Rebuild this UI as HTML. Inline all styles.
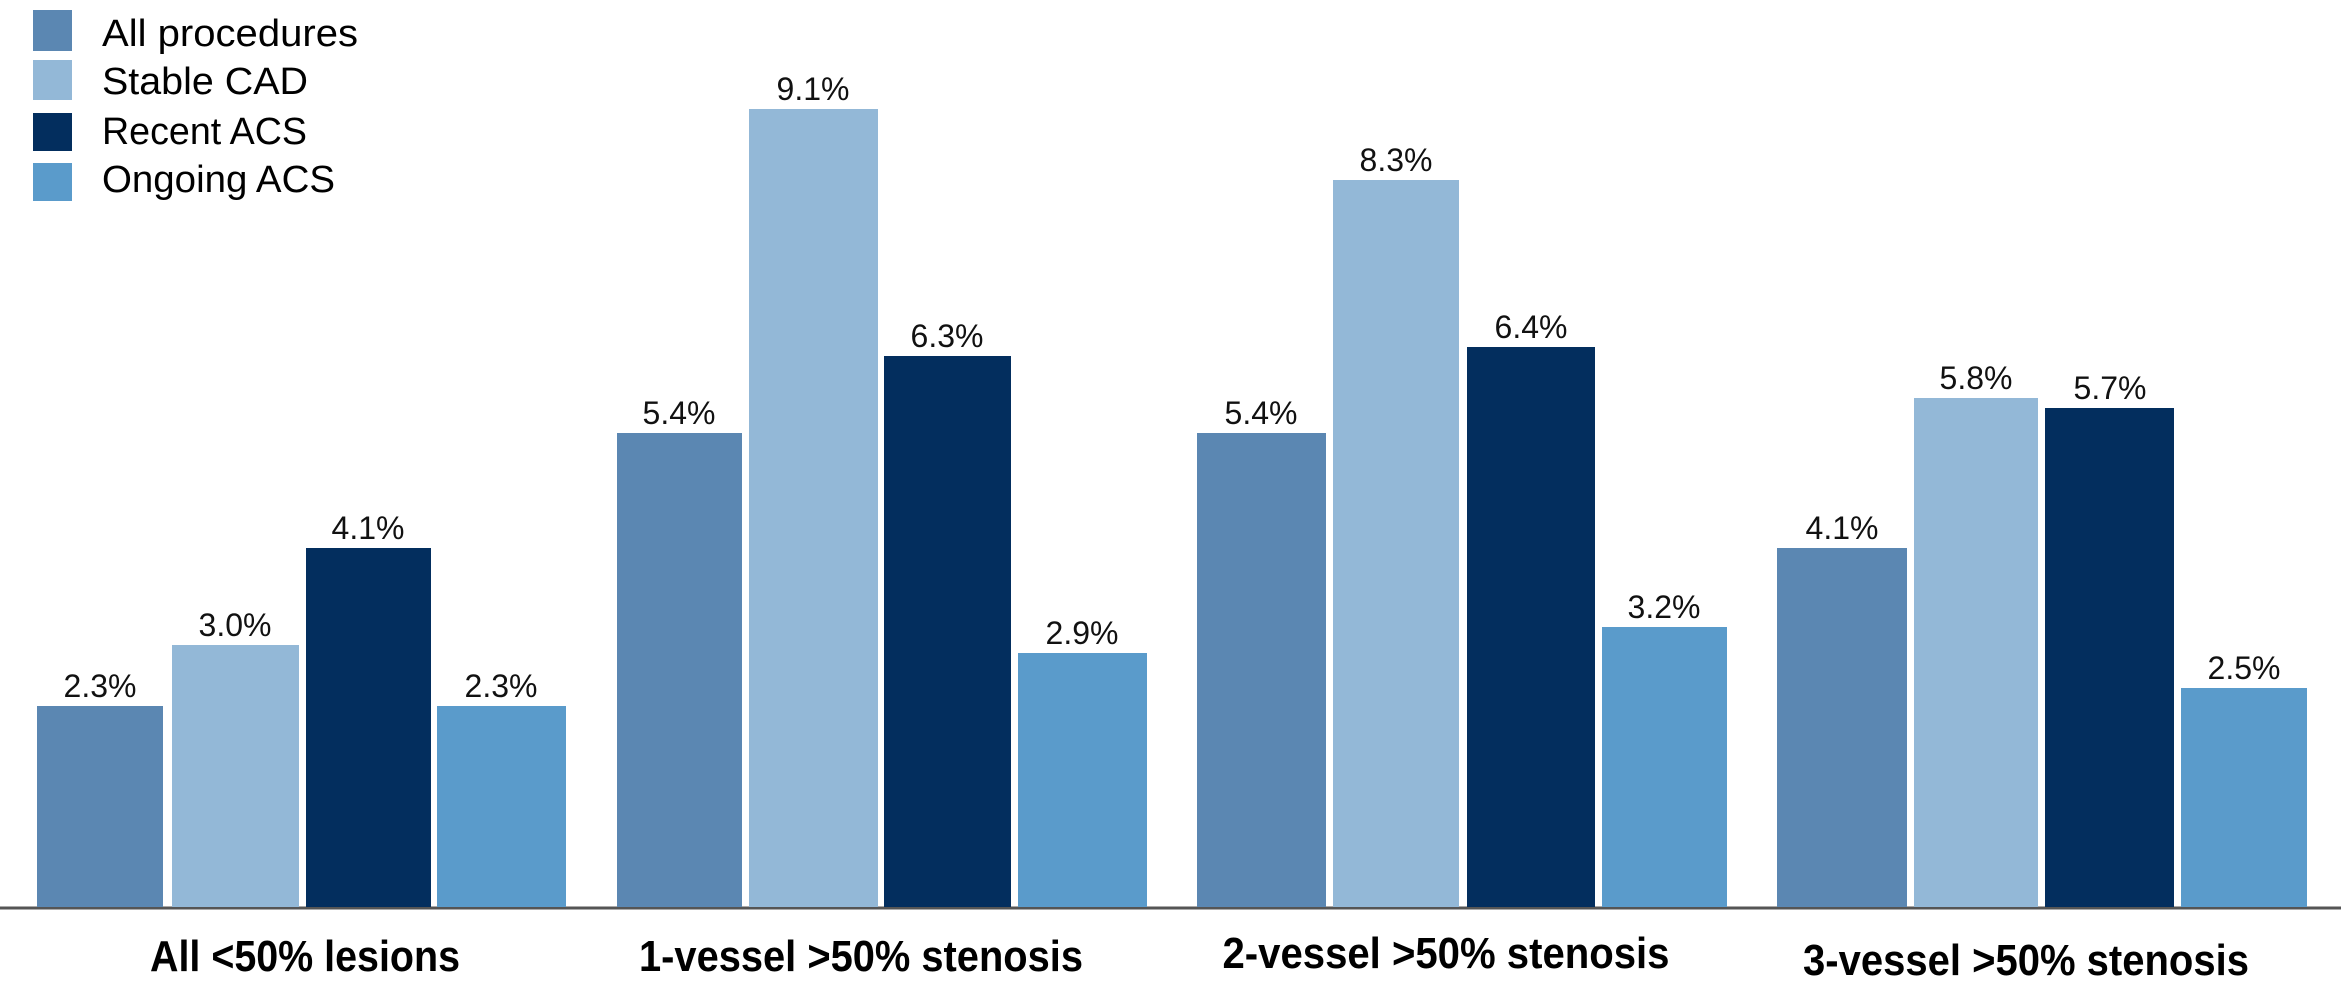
<!DOCTYPE html>
<html><head><meta charset="utf-8"><style>
html,body{margin:0;padding:0;background:#fff;}
svg{display:block;}
</style></head><body>
<svg width="2341" height="985" viewBox="0 0 2341 985" xmlns="http://www.w3.org/2000/svg">
<rect width="2341" height="985" fill="#fff"/>
<g font-family="Liberation Sans, sans-serif" font-size="38" fill="#000">
<rect x="33" y="10" width="39" height="41" fill="#5b87b2"/>
<rect x="33" y="60" width="39" height="40" fill="#93b8d7"/>
<rect x="33" y="113" width="39" height="38" fill="#032e5e"/>
<rect x="33" y="163" width="39" height="38" fill="#5a9bcb"/>
<text x="102" y="46" textLength="256" lengthAdjust="spacingAndGlyphs">All procedures</text>
<text x="102" y="94" textLength="206" lengthAdjust="spacingAndGlyphs">Stable CAD</text>
<text x="102" y="144" textLength="205" lengthAdjust="spacingAndGlyphs">Recent ACS</text>
<text x="102" y="192" textLength="233" lengthAdjust="spacingAndGlyphs">Ongoing ACS</text>
</g>
<line x1="0" y1="908" x2="2341" y2="908" stroke="#555" stroke-width="3"/>
<g font-family="Liberation Sans, sans-serif" font-size="32" fill="#111" text-anchor="middle">
<rect x="37" y="706" width="126" height="201" fill="#5b87b2"/>
<rect x="172" y="645" width="127" height="262" fill="#93b8d7"/>
<rect x="306" y="548" width="125" height="359" fill="#032e5e"/>
<rect x="437" y="706" width="129" height="201" fill="#5a9bcb"/>
<text x="100" y="697">2.3%</text><text x="235" y="636">3.0%</text><text x="368" y="539">4.1%</text><text x="501" y="697">2.3%</text>
<rect x="617" y="433" width="125" height="474" fill="#5b87b2"/>
<rect x="749" y="109" width="129" height="798" fill="#93b8d7"/>
<rect x="884" y="356" width="127" height="551" fill="#032e5e"/>
<rect x="1018" y="653" width="129" height="254" fill="#5a9bcb"/>
<text x="679" y="424">5.4%</text><text x="813" y="100">9.1%</text><text x="947" y="347">6.3%</text><text x="1082" y="644">2.9%</text>
<rect x="1197" y="433" width="129" height="474" fill="#5b87b2"/>
<rect x="1333" y="180" width="126" height="727" fill="#93b8d7"/>
<rect x="1467" y="347" width="128" height="560" fill="#032e5e"/>
<rect x="1602" y="627" width="125" height="280" fill="#5a9bcb"/>
<text x="1261" y="424">5.4%</text><text x="1396" y="171">8.3%</text><text x="1531" y="338">6.4%</text><text x="1664" y="618">3.2%</text>
<rect x="1777" y="548" width="130" height="359" fill="#5b87b2"/>
<rect x="1914" y="398" width="124" height="509" fill="#93b8d7"/>
<rect x="2045" y="408" width="129" height="499" fill="#032e5e"/>
<rect x="2181" y="688" width="126" height="219" fill="#5a9bcb"/>
<text x="1842" y="539">4.1%</text><text x="1976" y="389">5.8%</text><text x="2110" y="399">5.7%</text><text x="2244" y="679">2.5%</text>
</g>
<g font-family="Liberation Sans, sans-serif" font-size="44" font-weight="bold" fill="#000" text-anchor="middle">
<text x="305" y="971" textLength="310" lengthAdjust="spacingAndGlyphs">All &lt;50% lesions</text>
<text x="861" y="971" textLength="444" lengthAdjust="spacingAndGlyphs">1-vessel &gt;50% stenosis</text>
<text x="1446" y="968" textLength="447" lengthAdjust="spacingAndGlyphs">2-vessel &gt;50% stenosis</text>
<text x="2026" y="975" textLength="446" lengthAdjust="spacingAndGlyphs">3-vessel &gt;50% stenosis</text>
</g>
</svg>
</body></html>
